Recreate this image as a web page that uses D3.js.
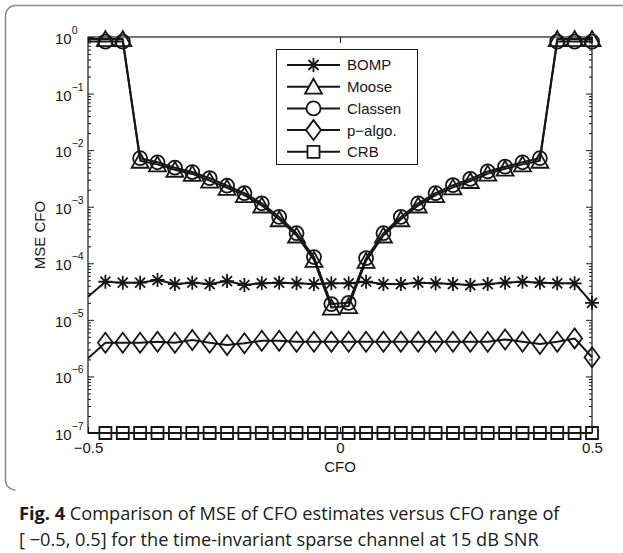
<!DOCTYPE html>
<html><head><meta charset="utf-8">
<script src="https://cdn.jsdelivr.net/npm/d3@7"></script>
<style>body{margin:0;background:#fff} svg{display:block}</style>
</head><body>
<svg id="c" width="623" height="553"></svg>
<script>
// ---------------- data ----------------
const cfo = [-0.5, -0.4655, -0.4310, -0.3966, -0.3621, -0.3276, -0.2931, -0.2586, -0.2241, -0.1897,
  -0.1552, -0.1207, -0.0862, -0.0517, -0.0172, 0.0172, 0.0517, 0.0862, 0.1207, 0.1552,
  0.1897, 0.2241, 0.2586, 0.2931, 0.3276, 0.3621, 0.3966, 0.4310, 0.4655, 0.5];

const bomp = [2.57e-5, 4.72e-5, 4.54e-5, 4.54e-5, 5.06e-5, 4.30e-5, 4.54e-5, 4.30e-5, 4.85e-5, 4.13e-5,
  4.43e-5, 4.54e-5, 4.43e-5, 4.30e-5, 4.43e-5, 4.43e-5, 4.72e-5, 4.30e-5, 4.30e-5, 4.54e-5,
  4.43e-5, 4.30e-5, 4.13e-5, 4.30e-5, 4.54e-5, 4.72e-5, 4.54e-5, 4.43e-5, 4.43e-5, 2.0e-5];

const moose = [0.92, 0.92, 0.92, 6.5e-3, 5.6e-3, 4.5e-3, 3.8e-3, 2.9e-3, 2.15e-3, 1.6e-3,
  1.05e-3, 6.0e-4, 3.1e-4, 1.15e-4, 1.65e-5, 1.75e-5, 1.1e-4, 3.1e-4, 6.0e-4, 1.05e-3,
  1.6e-3, 2.2e-3, 2.85e-3, 3.85e-3, 4.7e-3, 5.6e-3, 6.5e-3, 0.92, 0.92, 0.92];

const classen = [0.83, 0.83, 0.83, 7.2e-3, 6.1e-3, 4.9e-3, 4.1e-3, 3.2e-3, 2.35e-3, 1.74e-3,
  1.15e-3, 6.6e-4, 3.4e-4, 1.29e-4, 1.9e-5, 2.0e-5, 1.23e-4, 3.4e-4, 6.6e-4, 1.15e-3,
  1.74e-3, 2.4e-3, 3.1e-3, 4.2e-3, 5.1e-3, 6.1e-3, 7.2e-3, 0.83, 0.83, 0.83];

const palgo = [2.1e-6, 3.94e-6, 3.94e-6, 3.94e-6, 4.1e-6, 3.94e-6, 4.4e-6, 3.94e-6, 3.6e-6, 3.85e-6,
  4.27e-6, 4.27e-6, 4.1e-6, 4.1e-6, 4.1e-6, 4.1e-6, 4.1e-6, 4.1e-6, 4.1e-6, 4.1e-6,
  4.1e-6, 4.1e-6, 4.1e-6, 4.1e-6, 4.5e-6, 4.1e-6, 3.74e-6, 4.1e-6, 4.7e-6, 2.18e-6];

const crb = [1.0e-7, 1.0e-7, 1.0e-7, 1.0e-7, 1.0e-7, 1.0e-7, 1.0e-7, 1.0e-7, 1.0e-7, 1.0e-7,
  1.0e-7, 1.0e-7, 1.0e-7, 1.0e-7, 1.0e-7, 1.0e-7, 1.0e-7, 1.0e-7, 1.0e-7, 1.0e-7,
  1.0e-7, 1.0e-7, 1.0e-7, 1.0e-7, 1.0e-7, 1.0e-7, 1.0e-7, 1.0e-7, 1.0e-7, 1.0e-7];

const seriesNames = ["BOMP", "Moose", "Classen", "p\u2212algo.", "CRB"];
const seriesMarkers = ["star", "triangle", "circle", "diamond", "square"];
const seriesValues = [bomp, moose, classen, palgo, crb];

const xTicks = [-0.5, 0, 0.5];
const xTickLabels = ["\u22120.5", "0", "0.5"];
const yExponents = [0, -1, -2, -3, -4, -5, -6, -7];
const yExpLabels = ["0", "\u22121", "\u22122", "\u22123", "\u22124", "\u22125", "\u22126", "\u22127"];

const xLabel = "CFO";
const yLabel = "MSE CFO";
const captionBold = "Fig. 4";
const captionLine1 = " Comparison of MSE of CFO estimates versus CFO range of";
const captionLine2 = "[ \u22120.5, 0.5] for the time-invariant sparse channel at 15 dB SNR";

// ---------------- drawing ----------------
const INK = "#161616";
const svg = d3.select("#c");
const P = {left: 88, right: 592, top: 37, bottom: 433};
const x = d3.scaleLinear().domain([-0.5, 0.5]).range([P.left, P.right]);
const y = d3.scaleLog().domain([1e-7, 1]).range([P.bottom, P.top]);

// outer frame
svg.append("path")
  .attr("d", "M623,5.5 H15.5 A10,10 0 0 0 5.5,15.5 V480 A10,10 0 0 0 15.5,490")
  .attr("fill", "none").attr("stroke", "#8a8a8a").attr("stroke-width", 1.5);

// axes box
svg.append("rect").attr("x", P.left).attr("y", P.top)
  .attr("width", P.right - P.left).attr("height", P.bottom - P.top)
  .attr("fill", "none").attr("stroke", INK).attr("stroke-width", 1.2);

// minor ticks list from decades
const minorTicks = [];
yExponents.slice(1).forEach(e => { for (let k = 2; k <= 9; k++) minorTicks.push(k * Math.pow(10, e)); });
const majorTicks = yExponents.map(e => Math.pow(10, e));

function styleAxis(g) {
  g.select(".domain").remove();
  g.selectAll(".tick line").attr("stroke", INK).attr("stroke-width", 1);
}
svg.append("g").attr("transform", `translate(${P.left},0)`)
  .call(d3.axisLeft(y).tickValues(majorTicks).tickSize(-6).tickFormat("")).call(styleAxis);
svg.append("g").attr("transform", `translate(${P.left},0)`)
  .call(d3.axisLeft(y).tickValues(minorTicks).tickSize(-3).tickFormat("")).call(styleAxis);
svg.append("g").attr("transform", `translate(${P.right},0)`)
  .call(d3.axisRight(y).tickValues(majorTicks).tickSize(-6).tickFormat("")).call(styleAxis);
svg.append("g").attr("transform", `translate(${P.right},0)`)
  .call(d3.axisRight(y).tickValues(minorTicks).tickSize(-3).tickFormat("")).call(styleAxis);

const xb = svg.append("g").attr("transform", `translate(0,${P.bottom})`)
  .call(d3.axisBottom(x).tickValues(xTicks).tickSize(-6).tickPadding(9)
    .tickFormat((d, i) => xTickLabels[i])).call(styleAxis);
xb.selectAll(".tick text").attr("font-family", "'Liberation Sans', Arial, sans-serif")
  .attr("font-size", 15).attr("fill", INK);
svg.append("g").attr("transform", `translate(0,${P.top})`)
  .call(d3.axisTop(x).tickValues(xTicks).tickSize(-6).tickFormat("")).call(styleAxis);

// y tick labels 10^e
yExponents.forEach((e, i) => {
  const t = svg.append("text").attr("x", 55).attr("y", y(Math.pow(10, e)) + 7)
    .attr("font-family", "'Liberation Sans', Arial, sans-serif").attr("font-size", 15).attr("fill", INK);
  t.append("tspan").text("10");
  t.append("tspan").attr("dy", -10).attr("font-size", 10.5).text(yExpLabels[i]);
});

// axis labels
svg.append("text").attr("x", (P.left + P.right) / 2).attr("y", 472)
  .attr("text-anchor", "middle").attr("font-family", "'Liberation Sans', Arial, sans-serif")
  .attr("font-size", 15).attr("fill", INK).text(xLabel);
svg.append("text").attr("transform", `translate(45,${(P.top + P.bottom) / 2}) rotate(-90)`)
  .attr("text-anchor", "middle").attr("font-family", "'Liberation Sans', Arial, sans-serif")
  .attr("font-size", 15).attr("fill", INK).text(yLabel);

// markers
function markerPath(type) {
  switch (type) {
    case "star": return "M-7,0H7M0,-7V7M-5,-5L5,5M-5,5L5,-5";
    case "triangle": return "M0,-8L8.5,7L-8.5,7Z";
    case "circle": return "M7,0A7,7 0 1 1 -7,0A7,7 0 1 1 7,0Z";
    case "diamond": return "M0,-10L7.5,0L0,10L-7.5,0Z";
    case "square": return "M-6,-6H6V6H-6Z";
  }
}

const line = d3.line().x(d => x(d[0])).y(d => y(d[1]));
seriesValues.forEach((vals, si) => {
  const pts = cfo.map((c, i) => [c, vals[i]]);
  const g = svg.append("g");
  g.append("path").attr("d", line(pts)).attr("fill", "none")
    .attr("stroke", INK).attr("stroke-width", 2).attr("stroke-linejoin", "round");
  // the first sample (at the left axis edge) carries no marker in the original figure
  g.selectAll("path.m").data(pts.slice(1)).join("path").attr("class", "m")
    .attr("transform", d => `translate(${x(d[0])},${y(d[1])})`)
    .attr("d", markerPath(seriesMarkers[si]))
    .attr("fill", "none").attr("stroke", INK).attr("stroke-width", 1.8).attr("stroke-linejoin", "miter");
});

// legend
const L = {x: 276, y: 49, w: 141, h: 115, rowH: 21.7, first: 65};
svg.append("rect").attr("x", L.x + 0.5).attr("y", L.y + 0.5).attr("width", L.w).attr("height", L.h)
  .attr("fill", "#fff").attr("stroke", INK).attr("stroke-width", 1);
seriesNames.forEach((name, i) => {
  const cy = L.first + i * L.rowH;
  svg.append("line").attr("x1", L.x + 11).attr("x2", L.x + 64).attr("y1", cy).attr("y2", cy)
    .attr("stroke", INK).attr("stroke-width", 2);
  svg.append("path").attr("transform", `translate(${L.x + 37.5},${cy})`)
    .attr("d", markerPath(seriesMarkers[i])).attr("fill", "#fff")
    .attr("stroke", INK).attr("stroke-width", 1.8);
  svg.append("text").attr("x", L.x + 71).attr("y", cy).attr("dy", "0.36em")
    .attr("font-family", "'Liberation Sans', Arial, sans-serif").attr("font-size", 15)
    .attr("fill", INK).text(name);
});

// caption
const capFont = "'Open Sans', 'Noto Sans', sans-serif";
const cap = svg.append("text").attr("x", 19).attr("y", 520)
  .attr("font-family", capFont).attr("font-size", 18.2).attr("fill", "#1a1a1a");
cap.append("tspan").attr("font-weight", "bold").text(captionBold);
cap.append("tspan").text(captionLine1);
svg.append("text").attr("x", 19).attr("y", 546)
  .attr("font-family", capFont).attr("font-size", 18.2).attr("fill", "#1a1a1a")
  .text(captionLine2);
</script>
</body></html>
